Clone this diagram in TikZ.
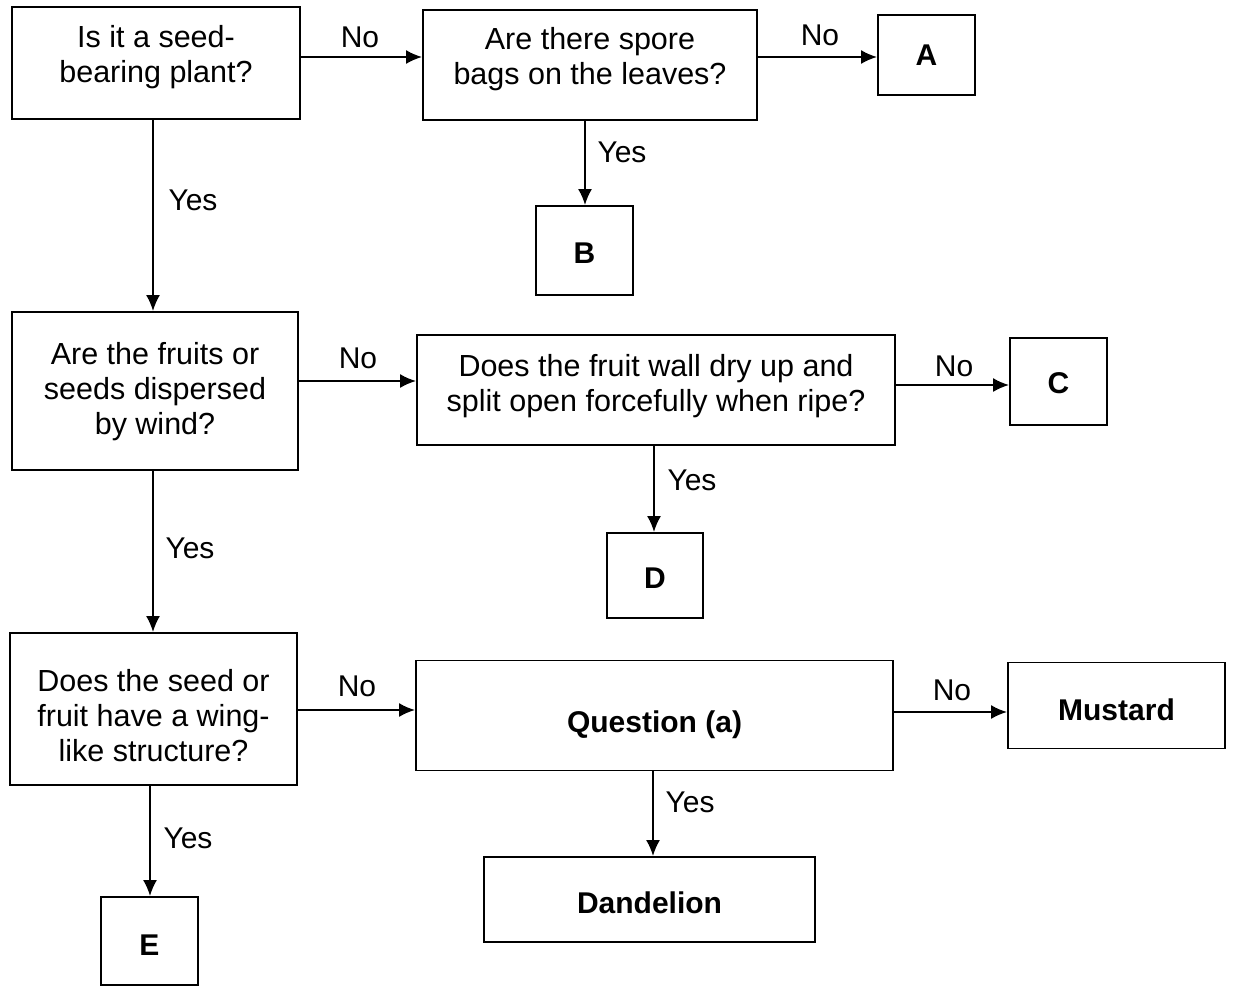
\documentclass[tikz,border=0pt]{standalone}
\usepackage{fontspec}
\setmainfont{Liberation Sans}
\usetikzlibrary{arrows.meta}
\tikzset{
  box/.style={draw, line width=1.9pt, inner sep=0pt},
  qt/.style={align=center, inner sep=0pt, font=\fontsize{30.5}{35}\selectfont},
  bt/.style={align=center, inner sep=0pt, font=\fontsize{30}{35}\selectfont\bfseries},
  arr/.style={line width=1.9pt, -{Latex[length=16pt,width=14pt]}},
  lbl/.style={font=\fontsize{30}{35}\selectfont, inner sep=0pt}
}
\begin{document}
\begin{tikzpicture}[x=1pt,y=-1pt]
\fill[white] (0,0) rectangle (1233,986);
\useasboundingbox (0,0) rectangle (1233,986);
% nodes
\node[box, minimum width=288pt, minimum height=112pt, label={[qt,yshift=6pt]center:{Is it a seed-\\bearing plant?}}] (q1) at (156,63) {};
\node[box, minimum width=334pt, minimum height=110pt, label={[qt,yshift=6pt]center:{Are there spore\\bags on the leaves?}}] (q2) at (590,65) {};
\node[box, minimum width=97pt, minimum height=80pt, label={[bt]center:A}] (A) at (926.5,55) {};
\node[box, minimum width=97pt, minimum height=89pt, label={[bt,yshift=-3pt]center:B}] (B) at (584.5,250.5) {};
\node[box, minimum width=286pt, minimum height=158pt, label={[qt,yshift=-1pt]center:{Are the fruits or\\seeds dispersed\\by wind?}}] (q3) at (155,391) {};
\node[box, minimum width=478pt, minimum height=110pt, label={[qt,yshift=4pt]center:{Does the fruit wall dry up and\\split open forcefully when ripe?}}] (q4) at (656,390) {};
\node[box, minimum width=97pt, minimum height=87pt, label={[bt,yshift=-2pt]center:C}] (C) at (1058.5,381.5) {};
\node[box, minimum width=96pt, minimum height=85pt, label={[bt,yshift=-3pt]center:D}] (D) at (655,575.5) {};
\node[box, minimum width=287pt, minimum height=152pt, label={[qt,yshift=-7pt]center:{Does the seed or\\fruit have a wing-\\like structure?}}] (q5) at (153.5,709) {};
\node[box, minimum width=477pt, minimum height=110pt, label={[bt,yshift=-9pt]center:Question (a)}] (qa) at (654.5,715.5) {};
\node[box, minimum width=217pt, minimum height=86pt, label={[bt,yshift=-4pt]center:Mustard}] (M) at (1116.5,705.5) {};
\node[box, minimum width=331pt, minimum height=85pt, label={[bt,yshift=-3pt]center:Dandelion}] (Dd) at (649.5,899.5) {};
\node[box, minimum width=97pt, minimum height=88pt, label={[bt,yshift=-4pt]center:E}] (E) at (149.5,941) {};
% connectors
\draw[arr] (q1.east |- 0,57) -- (q2.west |- 0,57);
\draw[arr] (q2.east |- 0,57) -- (A.west |- 0,57);
\draw[arr] (q2.south -| 585,0) -- (B.north -| 585,0);
\draw[arr] (q1.south -| 153,0) -- (q3.north -| 153,0);
\draw[arr] (q3.east |- 0,381) -- (q4.west |- 0,381);
\draw[arr] (q4.east |- 0,385) -- (C.west |- 0,385);
\draw[arr] (q4.south -| 654,0) -- (D.north -| 654,0);
\draw[arr] (q3.south -| 153,0) -- (q5.north -| 153,0);
\draw[arr] (q5.east |- 0,710) -- (qa.west |- 0,710);
\draw[arr] (qa.east |- 0,712) -- (M.west |- 0,712);
\draw[arr] (qa.south -| 653,0) -- (Dd.north -| 653,0);
\draw[arr] (q5.south -| 150,0) -- (E.north -| 150,0);
% labels
\node[lbl] (l1) at (360,37) {No};
\node[lbl] (l2) at (820,35) {No};
\node[lbl] (l3) at (622,152) {Yes};
\node[lbl] (l4) at (193,200) {Yes};
\node[lbl] (l5) at (358,358) {No};
\node[lbl] (l6) at (954,366) {No};
\node[lbl] (l7) at (692,480) {Yes};
\node[lbl] (l8) at (190,548) {Yes};
\node[lbl] (l9) at (357,686) {No};
\node[lbl] (l10) at (952,690) {No};
\node[lbl] (l11) at (690,802) {Yes};
\node[lbl] (l12) at (188,838) {Yes};
\end{tikzpicture}
\end{document}
